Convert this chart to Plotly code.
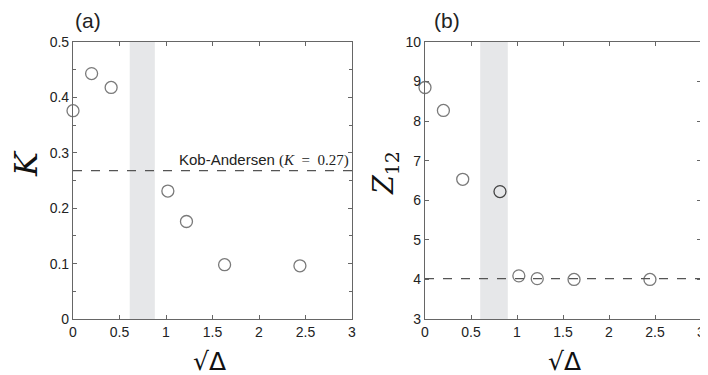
import plotly.graph_objects as go

# Panel (a): K vs sqrt(Delta)
xa = [0.0, 0.2, 0.41, 1.02, 1.22, 1.63, 2.44]
ka = [0.376, 0.443, 0.418, 0.231, 0.176, 0.098, 0.096]
k_ka = 0.268

# Panel (b): Z12 vs sqrt(Delta)
xb = [0.0, 0.2, 0.41, 0.815, 1.02, 1.22, 1.62, 2.445]
zb = [8.85, 8.27, 6.53, 6.22, 4.09, 4.02, 4.0, 4.0]
z_ref = 4.02

shade_a = [0.61, 0.88]
shade_b = [0.6, 0.9]

x_ticks = [0, 0.5, 1, 1.5, 2, 2.5, 3]
x_ticktext = ["0", "0.5", "1", "1.5", "2", "2.5", "3"]
ya_ticks = [0, 0.1, 0.2, 0.3, 0.4, 0.5]
ya_ticktext = ["0", "0.1", "0.2", "0.3", "0.4", "0.5"]
yb_ticks = [3, 4, 5, 6, 7, 8, 9, 10]

# page body has an 8px margin: figure is placed at (8, 8)
OFF = 8
W, H = 708 - OFF, 375 - OFF


def px(x):
    return (x - OFF) / W


def py(y):
    return 1 - (y - OFF) / H


fig = go.Figure()

marker_col = "#7a7a7a"
fig.add_trace(go.Scatter(x=xa, y=ka, mode="markers", xaxis="x", yaxis="y",
                         marker=dict(symbol="circle-open", size=12, color=marker_col,
                                     line=dict(width=1.3, color=marker_col)),
                         showlegend=False, cliponaxis=False))
colors_b = [marker_col] * len(xb)
colors_b[3] = "#444444"
fig.add_trace(go.Scatter(x=xb, y=zb, mode="markers", xaxis="x2", yaxis="y2",
                         marker=dict(symbol="circle-open", size=12, color=colors_b,
                                     line=dict(width=1.3, color=colors_b)),
                         showlegend=False, cliponaxis=False))

shapes = [
    dict(type="rect", xref="x", yref="y", x0=shade_a[0], x1=shade_a[1], y0=0, y1=0.5,
         fillcolor="#e6e7e9", line=dict(width=0), layer="below"),
    dict(type="rect", xref="x2", yref="y2", x0=shade_b[0], x1=shade_b[1], y0=3, y1=10,
         fillcolor="#e6e7e9", line=dict(width=0), layer="below"),
    dict(type="line", xref="x", yref="y", x0=0, x1=3, y0=k_ka, y1=k_ka,
         line=dict(color="#555555", width=1.3, dash="dash")),
    dict(type="line", xref="x2", yref="y2", x0=0, x1=3, y0=z_ref, y1=z_ref,
         line=dict(color="#555555", width=1.3, dash="dash")),
]

axis_common = dict(showgrid=False, zeroline=False, showline=True, linecolor="#666666",
                   linewidth=1.2, ticks="inside", ticklen=4, tickcolor="#666666",
                   mirror="ticks", automargin=False,
                   tickfont=dict(family="Liberation Sans, Arial", size=14, color="#222"))

fig.update_layout(
    width=W, height=H,
    margin=dict(l=0, r=0, t=0, b=0),
    paper_bgcolor="white", plot_bgcolor="white",
    shapes=shapes,
    xaxis=dict(domain=[px(73), px(352)], range=[0, 3], tickvals=x_ticks, ticktext=x_ticktext,
               anchor="y", **axis_common),
    yaxis=dict(domain=[py(319), py(42)], range=[0, 0.5], tickvals=ya_ticks, ticktext=ya_ticktext,
               anchor="x", minor=dict(dtick=0.05, ticks="inside", ticklen=3, tickcolor="#666666"),
               **axis_common),
    xaxis2=dict(domain=[px(425), px(701)], range=[0, 3], tickvals=x_ticks, ticktext=x_ticktext,
                anchor="y2", **axis_common),
    yaxis2=dict(domain=[py(319), py(42)], range=[3, 10], tickvals=yb_ticks,
                anchor="x2", **axis_common),
)

lab_font = dict(family="Liberation Sans, Arial", size=21, color="#222")
sq_font = dict(family="DejaVu Sans, sans-serif", size=25, color="#111")
ser = "DejaVu Serif, Liberation Serif, serif"
sqrt_delta = "√Δ"
ann = [
    dict(text="(a)", x=px(73), y=py(21), xanchor="left", yanchor="middle", font=lab_font),
    dict(text="(b)", x=px(432), y=py(21), xanchor="left", yanchor="middle", font=lab_font),
    dict(text="<i>K</i>", x=px(26), y=py(164), xanchor="center", yanchor="middle",
         textangle=-90, font=dict(family=ser, size=32, color="#111")),
    dict(text="<i>Z</i><sub>12</sub>", x=px(385), y=py(173), xanchor="center", yanchor="middle",
         textangle=-90, font=dict(family=ser, size=27, color="#111")),
    dict(text=sqrt_delta, x=px(209), y=py(361), xanchor="center", yanchor="middle", font=sq_font),
    dict(text=sqrt_delta, x=px(564), y=py(361), xanchor="center", yanchor="middle", font=sq_font),
]
for a in ann:
    a.update(xref="paper", yref="paper", showarrow=False)

ann.append(dict(
    text="Kob-Andersen <span style='font-family:Liberation Serif, serif;font-size:15px'>(<i>K</i>\u2002=\u20020.27)</span>",
    x=2.99, y=k_ka, xref="x", yref="y", xanchor="right", yanchor="bottom", yshift=0,
    showarrow=False, font=dict(family="Liberation Sans, Arial", size=15, color="#222")))
fig.update_layout(annotations=ann)

fig.write_html("out.html")
